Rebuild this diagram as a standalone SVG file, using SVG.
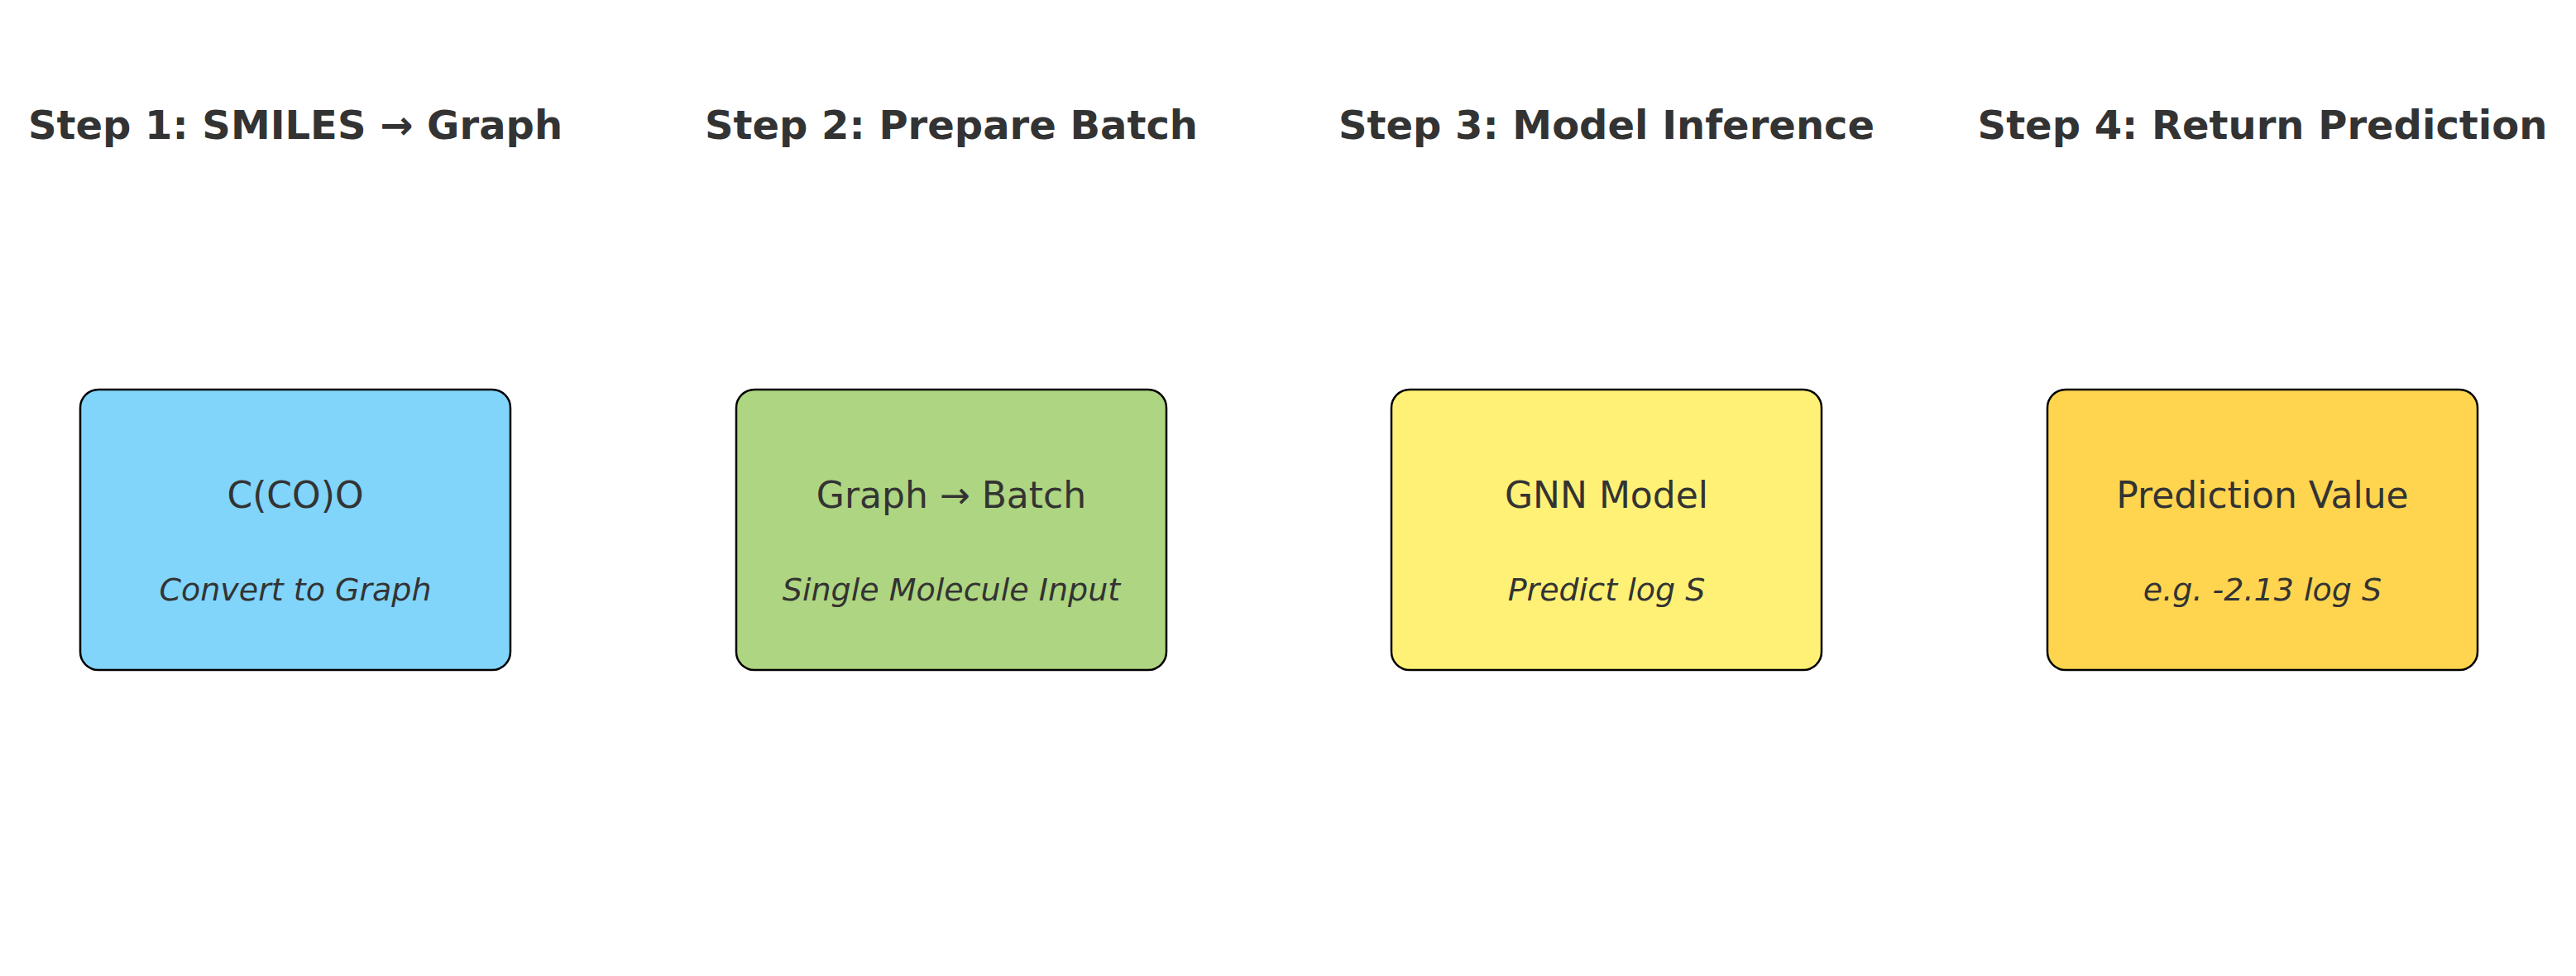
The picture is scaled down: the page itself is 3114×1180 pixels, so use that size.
<svg xmlns="http://www.w3.org/2000/svg" width="3114" height="1180" viewBox="0 0 3114 1180">
<style>
.t{font-family:"DejaVu Sans",sans-serif;font-weight:bold;font-size:48px;fill:#333;text-anchor:middle}
.m{font-family:"DejaVu Sans",sans-serif;font-size:44px;fill:#333;text-anchor:middle}
.s{font-family:"DejaVu Sans",sans-serif;font-style:italic;font-size:38px;fill:#333;text-anchor:middle}
.b{stroke:#000;stroke-width:2.5}
</style>
<rect width="3114" height="1180" fill="#fff"/>
<g id="titles">
<text class="t" x="357" y="168">Step 1: SMILES → Graph</text>
<text class="t" x="1150" y="168">Step 2: Prepare Batch</text>
<text class="t" x="1942" y="168">Step 3: Model Inference</text>
<text class="t" x="2735" y="168">Step 4: Return Prediction</text>
</g>
<g id="node1"><rect class="b" x="97" y="471" width="520" height="339" rx="22" fill="#81D4FA"/>
<text class="m" x="357" y="614">C(CO)O</text><text class="s" x="357" y="726">Convert to Graph</text></g>
<g id="node2"><rect class="b" x="890" y="471" width="520" height="339" rx="22" fill="#AED581"/>
<text class="m" x="1150" y="614">Graph → Batch</text><text class="s" x="1150" y="726">Single Molecule Input</text></g>
<g id="node3"><rect class="b" x="1682" y="471" width="520" height="339" rx="22" fill="#FFF176"/>
<text class="m" x="1942" y="614">GNN Model</text><text class="s" x="1942" y="726">Predict log S</text></g>
<g id="node4"><rect class="b" x="2475" y="471" width="520" height="339" rx="22" fill="#FFD54F"/>
<text class="m" x="2735" y="614">Prediction Value</text><text class="s" x="2735" y="726">e.g. -2.13 log S</text></g>
<g id="connectors"></g>
</svg>
